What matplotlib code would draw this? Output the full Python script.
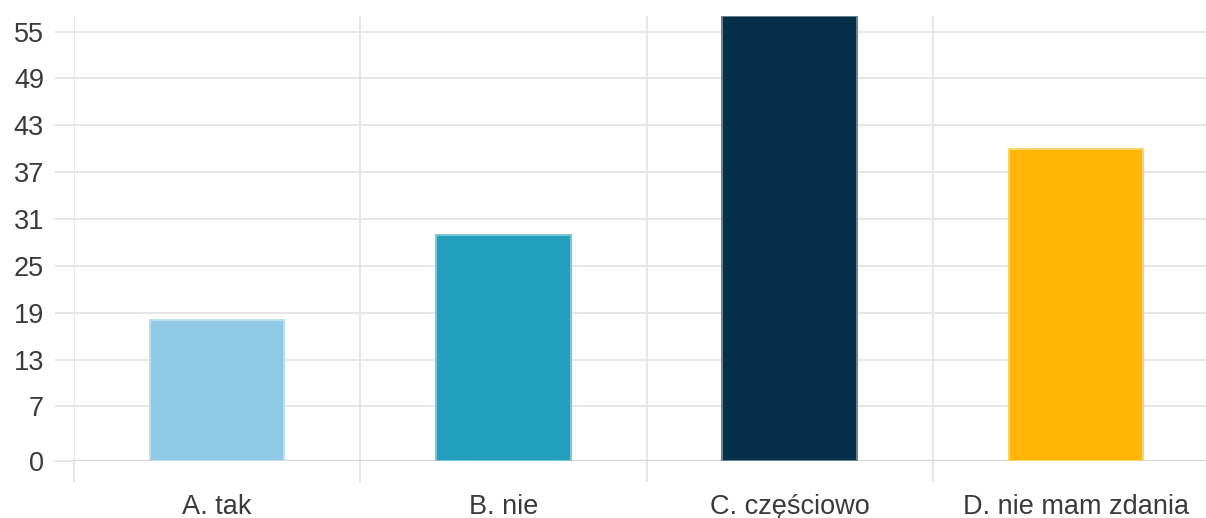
import numpy as np
import matplotlib
matplotlib.use("Agg")
import matplotlib.pyplot as plt
from matplotlib.colors import to_rgb

categories = ["A. tak", "B. nie", "C. częściowo", "D. nie mam zdania"]
values = [18, 29, 57, 40]
ytick_values = [0, 7, 13, 19, 25, 31, 37, 43, 49, 55]
colors = ["#8fc9e6", "#22a0be", "#053047", "#ffb606"]

W, H = 1206, 518
fig = plt.figure(figsize=(W / 100, H / 100), dpi=100)
ax = fig.add_axes([74 / W, (H - 461) / H, (W - 74) / W, (461 - 16) / H])

grid_c = "#e6e6e6"
px = 72 / 100  # points per pixel

edges = [tuple(0.6 * np.array(to_rgb(c)) + 0.4) for c in colors]
x = np.arange(len(categories))
ax.bar(x, values, width=0.47, color=colors, edgecolor=edges,
       linewidth=2 * px, zorder=3)

ax.set_xlim(-0.5, -0.5 + (W - 74) / 286.3)
ax.set_ylim(0, 57)

for s in ax.spines.values():
    s.set_visible(False)

# horizontal grid + ticks extending left
ax.set_yticks(ytick_values)
ax.set_yticklabels([str(v) for v in ytick_values])
ax.tick_params(axis="y", length=19 * px, width=2 * px, color=grid_c,
               pad=11 * px, labelsize=19.5, labelcolor="#3a3a3a")
ax.yaxis.grid(True, color=grid_c, linewidth=2 * px, zorder=0)

# vertical category separators + ticks extending down
ax.set_xticks(x)
ax.set_xticklabels(categories)
ax.set_xticks(np.arange(len(categories)) - 0.5, minor=True)
ax.tick_params(axis="x", which="major", length=0, pad=33 * px,
               labelsize=19.5, labelcolor="#3a3a3a")
ax.tick_params(axis="x", which="minor", length=21 * px, width=2 * px,
               color=grid_c)
ax.xaxis.grid(True, which="minor", color=grid_c, linewidth=2 * px, zorder=0)
ax.set_axisbelow(True)

ax.axhline(0, color="#d9d9d9", linewidth=2.5 * px, zorder=2)

for lab in ax.get_xticklabels() + ax.get_yticklabels():
    lab.set_fontfamily("Liberation Sans")

fig.savefig("out.png", dpi=100)
